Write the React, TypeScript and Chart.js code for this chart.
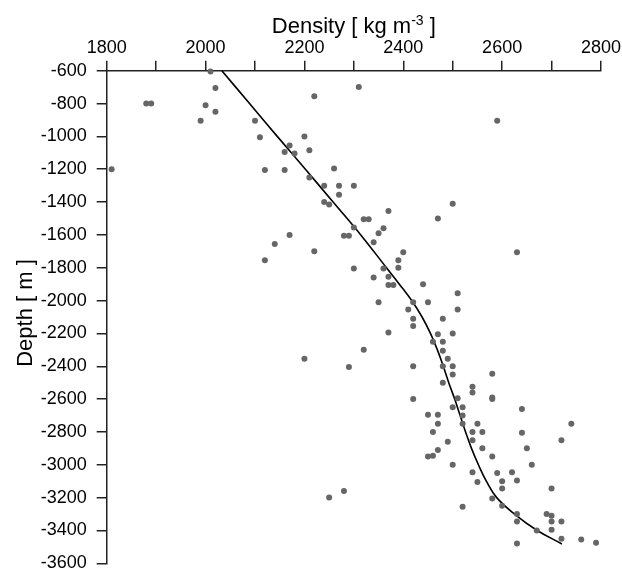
import React, { useEffect, useRef } from 'react';
import { Chart, registerables } from 'chart.js';

Chart.register(...registerables);

// Scatter samples: density [kg m^-3] and depth [m]
const sampleDensity = [
  2010, 2020, 2220, 1880, 1890, 2000, 2020, 1990, 2100, 2110, 2200, 2170, 2160, 2180, 2210,
  1810, 2120, 2160, 2260, 2210, 2240, 2270, 2300, 2270, 2240, 2250, 2300, 2170, 2280, 2290,
  2140, 2220, 2120, 2300, 2310,
  2590, 2370, 2500, 2320, 2330, 2470, 2360, 2350, 2340, 2400, 2630, 2390, 2360, 2390, 2340,
  2370, 2370, 2380, 2440, 2510,
  2350, 2420, 2450, 2410, 2510, 2420, 2480, 2420, 2370, 2470, 2500, 2460, 2480, 2480, 2320,
  2200, 2490, 2290, 2420, 2480, 2500, 2500, 2580, 2480, 2540, 2540, 2420, 2510, 2580, 2580,
  2500, 2520, 2640, 2450, 2470, 2520, 2470, 2520, 2550, 2740, 2460, 2540, 2560, 2640, 2490,
  2540, 2720, 2470, 2560, 2650, 2450, 2460, 2580, 2500, 2660, 2540, 2590, 2620, 2550, 2600,
  2630, 2250, 2280, 2600, 2700, 2580, 2520, 2600, 2630, 2630, 2690, 2700, 2700, 2720, 2670,
  2700, 2720, 2760, 2790, 2630,
];
const sampleDepth = [
  -605, -705, -755, -800, -800, -810, -850, -905, -905, -1005, -1000, -1055, -1095, -1105, -1085,
  -1200, -1205, -1205, -1195, -1250, -1300, -1300, -1300, -1355, -1400, -1415, -1555, -1600, -1605, -1605,
  -1655, -1700, -1755, -1805, -700,
  -905, -1455, -1410, -1505, -1505, -1500, -1560, -1590, -1645, -1705, -1705, -1755, -1805, -1800, -1860,
  -1855, -1905, -1905, -1900, -1955,
  -2010, -2010, -2010, -2055, -2055, -2110, -2110, -2155, -2195, -2205, -2200, -2250, -2250, -2305, -2300,
  -2355, -2355, -2405, -2400, -2400, -2400, -2450, -2445, -2500, -2525, -2560, -2600, -2595, -2590, -2600,
  -2650, -2650, -2660, -2695, -2695, -2700, -2750, -2750, -2750, -2750, -2800, -2800, -2800, -2805, -2860,
  -2850, -2850, -2910, -2900, -2900, -2950, -2945, -2950, -3000, -3000, -3045, -3050, -3045, -3105, -3100,
  -3095, -3200, -3160, -3145, -3145, -3205, -3255, -3250, -3300, -3345, -3300, -3310, -3345, -3345, -3400,
  -3395, -3450, -3455, -3475, -3480,
];

// Fitted trend curve
const curveDensity = [
  2033, 2089, 2145, 2202, 2258, 2314, 2366, 2392, 2417, 2438, 2455, 2469, 2481, 2492, 2504,
  2515, 2526, 2538, 2552, 2568, 2589, 2625, 2671, 2721,
];
const curveDepth = [
  -600, -800, -1000, -1200, -1400, -1600, -1800, -1900, -2000, -2100, -2200, -2300, -2400, -2500, -2600,
  -2700, -2800, -2900, -3000, -3100, -3200, -3300, -3400, -3482,
];

const xMin = 1800;
const xMax = 2800;
const yMin = -3600;
const yMax = -600;

const xTitleMain = 'Density [ kg m';
const xTitleSup = '-3';
const xTitleEnd = ' ]';
const yTitle = 'Depth [ m ]';

const FONT = '"Liberation Sans", Arial, Helvetica, sans-serif';

const titlePlugin = {
  id: 'axisTitles',
  afterDraw(chart: any) {
    const { ctx, chartArea } = chart;
    ctx.save();
    ctx.fillStyle = '#000';
    ctx.textBaseline = 'alphabetic';
    ctx.textAlign = 'left';
    const mainFont = `22px ${FONT}`;
    const supFont = `14px ${FONT}`;
    ctx.font = mainFont;
    const w1 = ctx.measureText(xTitleMain).width;
    const w3 = ctx.measureText(xTitleEnd).width;
    ctx.font = supFont;
    const w2 = ctx.measureText(xTitleSup).width;
    const total = w1 + w2 + w3;
    const cx = (chartArea.left + chartArea.right) / 2;
    let x = cx - total / 2;
    const base = 33;
    ctx.font = mainFont;
    ctx.fillText(xTitleMain, x, base);
    x += w1;
    ctx.font = supFont;
    ctx.fillText(xTitleSup, x, base - 8);
    x += w2;
    ctx.font = mainFont;
    ctx.fillText(xTitleEnd, x, base);

    ctx.translate(31.5, 313);
    ctx.rotate(-Math.PI / 2);
    ctx.textAlign = 'center';
    ctx.font = mainFont;
    ctx.fillText(yTitle, 0, 0);
    ctx.restore();
  },
};

export default function App() {
  const ref = useRef<HTMLCanvasElement | null>(null);

  useEffect(() => {
    if (!ref.current) return;
    const scatter = sampleDensity.map((d, i) => ({ x: d, y: sampleDepth[i] }));
    const curve = curveDensity.map((d, i) => ({ x: d, y: curveDepth[i] }));
    const chart = new Chart(ref.current, {
      type: 'scatter',
      data: {
        datasets: [
          {
            label: 'samples',
            data: scatter,
            pointRadius: 3,
            pointBackgroundColor: '#666666',
            pointBorderWidth: 0,
            borderColor: '#666666',
            showLine: false,
            clip: false as any,
          },
          {
            label: 'trend',
            data: curve,
            showLine: true,
            pointRadius: 0,
            borderColor: '#000000',
            borderWidth: 1.6,
            tension: 0.4,
            fill: false,
            clip: false as any,
          },
        ],
      },
      options: {
        animation: false,
        responsive: false,
        events: [],
        layout: { padding: { left: 0, right: 21, top: 0, bottom: 5.7 } },
        plugins: {
          legend: { display: false },
          tooltip: { enabled: false },
          title: { display: false },
        },
        scales: {
          x: {
            type: 'linear',
            position: 'top',
            min: xMin,
            max: xMax,
            afterFit: (s: any) => {
              s.height = 70.7;
              s.paddingLeft = 0;
              s.paddingRight = 0;
            },
            border: { display: true, color: '#222', width: 1.5 },
            grid: {
              display: true,
              drawOnChartArea: false,
              drawTicks: true,
              tickLength: 10,
              color: '#222',
              lineWidth: 1.5,
            },
            ticks: {
              stepSize: 100,
              autoSkip: false,
              maxRotation: 0,
              padding: 2,
              color: '#000',
              font: { family: FONT, size: 18 },
              callback: (v: any) => (Number(v) % 200 === 0 ? String(v) : ''),
            },
          },
          y: {
            type: 'linear',
            position: 'left',
            min: yMin,
            max: yMax,
            afterFit: (s: any) => {
              s.width = 106.7;
              s.paddingTop = 0;
              s.paddingBottom = 0;
            },
            border: { display: true, color: '#222', width: 1.5 },
            grid: {
              display: true,
              drawOnChartArea: false,
              drawTicks: true,
              tickLength: 10,
              color: '#222',
              lineWidth: 1.5,
            },
            ticks: {
              stepSize: 200,
              autoSkip: false,
              padding: 10,
              color: '#000',
              font: { family: FONT, size: 18 },
              callback: (v: any) => String(v),
            },
          },
        },
      },
      plugins: [titlePlugin],
    });
    return () => chart.destroy();
  }, []);

  return (
    <div style={{ position: 'absolute', left: 0, top: 0, width: 622, height: 569, background: '#fff' }}>
      <canvas ref={ref} width={622} height={569} style={{ width: 622, height: 569, display: 'block' }} />
    </div>
  );
}
